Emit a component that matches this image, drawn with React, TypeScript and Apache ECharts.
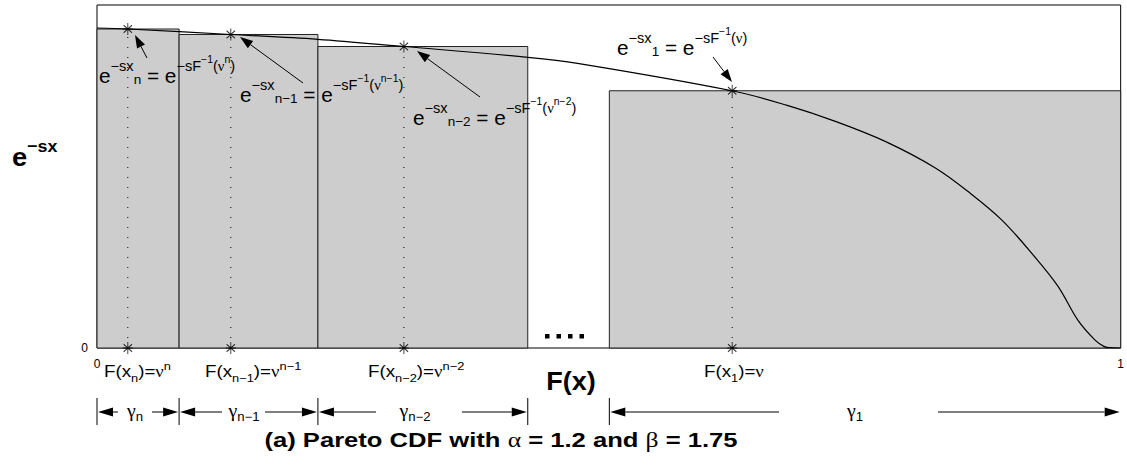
import React, { useEffect, useRef } from 'react';
import * as echarts from 'echarts';

// ---------- data ----------
const curveX = [0, 0.0301, 0.1307, 0.2157, 0.2998, 0.4208, 0.4694, 0.6205, 0.6735, 0.722, 0.771, 0.819, 0.851, 0.884, 0.916, 0.939, 0.958, 0.975, 0.984, 0.989, 1];
const curveY = [0.933, 0.930, 0.914, 0.900, 0.879, 0.8475, 0.830, 0.750, 0.708, 0.660, 0.601, 0.525, 0.456, 0.373, 0.266, 0.179, 0.082, 0.023, 0.004, 0.001, 0];
const starX = [0.0301, 0.1307, 0.2998, 0.6205];
const starY = [0.930, 0.914, 0.879, 0.750];
const barStart = [0, 0.0802, 0.2158, 0.5005];
const barEnd = [0.0802, 0.2158, 0.4208, 1];
const barHeight = [0.930, 0.914, 0.879, 0.750];
const xTickLabels = ['0', '1'];
const yTickLabels = ['0'];

const SANS = "'Liberation Sans'";
const SERIF = "'Liberation Serif'";
const SX = 1.1;

let measureCtx: CanvasRenderingContext2D | null = null;
function tw(t: string, font: string) {
  if (!measureCtx) measureCtx = document.createElement('canvas').getContext('2d');
  measureCtx!.font = font;
  return measureCtx!.measureText(t).width;
}

type Pc = [string, number?, boolean?];
type Cfg = { size: Record<string, number>; dy: Record<string, number>; weight: string; sx?: number };

function mtext(x0: number, yb: number, pcs: Pc[], cfg: Cfg, center = false) {
  const sx = cfg.sx ?? SX;
  const items: any[] = [];
  let x = 0;
  for (const p of pcs) {
    const l = String(p[1] ?? 0);
    const size = cfg.size[l];
    const dy = cfg.dy[l];
    const g = !!p[2];
    const fam = g ? SERIF : SANS;
    const weight = g ? 'normal' : cfg.weight;
    const font = `${weight} ${size}px ${fam}`;
    items.push({ t: p[0], x, y: yb + dy - (g ? 0.34 : 0.35) * size, font });
    x += tw(p[0], font) * sx;
  }
  const off = center ? x0 - x / 2 : x0;
  return items.map((it) => ({
    type: 'text',
    x: off + it.x,
    y: it.y,
    scaleX: sx,
    z: 100,
    style: {
      text: it.t, font: it.font, fill: '#000',
      textAlign: 'left', textVerticalAlign: 'middle', align: 'left', verticalAlign: 'middle',
    },
  }));
}

function arrow(fx: number, fy: number, tx: number, ty: number, len = 13, half = 4.5) {
  const dx = tx - fx, dy = ty - fy;
  const d = Math.hypot(dx, dy);
  const ux = dx / d, uy = dy / d;
  const bx = tx - ux * len, by = ty - uy * len;
  const nx = -uy, ny = ux;
  return [
    { type: 'line', z: 100, shape: { x1: fx, y1: fy, x2: bx, y2: by }, style: { stroke: '#000', lineWidth: 1 } },
    { type: 'polygon', z: 100, shape: { points: [[tx, ty], [bx + nx * half, by + ny * half], [bx - nx * half, by - ny * half]] }, style: { fill: '#000' } },
  ];
}

const annCfg: Cfg = { size: { '0': 20, '1': 14, '2': 10, '-1': 13 }, dy: { '0': 0, '1': -12, '2': -20, '-1': 1 }, weight: 'normal', sx: 1.04 };
const lblCfg: Cfg = { size: { '0': 16, '1': 11, '-1': 11 }, dy: { '0': 0, '1': -7, '-1': 5 }, weight: 'normal', sx: 1.17 };
const gamCfg: Cfg = { size: { '0': 18, '-1': 12 }, dy: { '0': 0, '-1': 4 }, weight: 'normal', sx: 1.1 };

export default function App() {
  const ref = useRef<HTMLDivElement>(null);
  useEffect(() => {
    const chart = echarts.init(ref.current!, undefined, { renderer: 'svg' });
    const starSym = 'path://M5,0L5,12M0,6L10,6M0.8,2.2L9.2,9.8M0.8,9.8L9.2,2.2';
    const option: any = {
      animation: false,
      grid: { left: 97, right: 1, top: 5, bottom: 117, show: true, borderColor: '#000', borderWidth: 1, backgroundColor: 'transparent' },
      xAxis: {
        type: 'value', min: 0, max: 1, interval: 1,
        axisLine: { show: false }, axisTick: { show: false }, splitLine: { show: false },
        axisLabel: { margin: 10, fontSize: 12, fontFamily: SANS, color: '#000', formatter: (v: number) => xTickLabels[Math.round(v)] ?? '' },
      },
      yAxis: {
        type: 'value', min: 0, max: 1, interval: 1,
        axisLine: { show: false }, axisTick: { show: false }, splitLine: { show: false },
        axisLabel: { margin: 9, fontSize: 12, fontFamily: SANS, color: '#000', formatter: (v: number) => (v === 0 ? yTickLabels[0] : '') },
      },
      series: [
        {
          type: 'custom', z: 1,
          data: barStart.map((s, i) => [s, barEnd[i], barHeight[i]]),
          encode: { x: [0, 1], y: 2 },
          renderItem: (params: any, api: any) => {
            const p0 = api.coord([api.value(0), api.value(2)]);
            const p1 = api.coord([api.value(1), 0]);
            return {
              type: 'rect',
              shape: { x: p0[0], y: p0[1], width: p1[0] - p0[0], height: p1[1] - p0[1] },
              style: { fill: '#cdcdcd', stroke: '#222', lineWidth: 1 },
            };
          },
        },
        ...starX.map((x, i) => ({
          type: 'line', z: 2, symbol: 'none', silent: true,
          data: [[x, 0], [x, starY[i]]],
          lineStyle: { color: '#000', width: 1, type: [1, 9] },
        })),
        {
          type: 'line', z: 3, symbol: 'none', smooth: 0.35,
          data: curveX.map((x, i) => [x, curveY[i]]),
          lineStyle: { color: '#000', width: 1.2 },
        },
        {
          type: 'scatter', z: 4, symbol: starSym, symbolSize: [10, 12],
          data: starX.map((x, i) => [x, starY[i]]).concat(starX.map((x) => [x, 0])),
          itemStyle: { color: 'transparent', borderColor: '#000', borderWidth: 1 },
        },
      ],
    };
    chart.setOption(option);

    const g: any[] = [];
    const nu = (s: string, l: number): Pc => [s, l, true];
    // annotations
    g.push(...mtext(99, 83, [['e'], ['−sx', 1], ['n', -1], [' = '], ['e'], ['−sF', 1], ['−1', 2], ['(', 1], nu('ν', 1), ['n', 2], [')', 1]], annCfg));
    g.push(...mtext(240, 102, [['e'], ['−sx', 1], ['n−1', -1], [' = '], ['e'], ['−sF', 1], ['−1', 2], ['(', 1], nu('ν', 1), ['n−1', 2], [')', 1]], annCfg));
    g.push(...mtext(413, 125, [['e'], ['−sx', 1], ['n−2', -1], [' = '], ['e'], ['−sF', 1], ['−1', 2], ['(', 1], nu('ν', 1), ['n−2', 2], [')', 1]], annCfg));
    g.push(...mtext(617, 55, [['e'], ['−sx', 1], ['1', -1], [' = '], ['e'], ['−sF', 1], ['−1', 2], ['(', 1], nu('ν', 1), [')', 1]], annCfg));
    g.push(...arrow(147, 58, 135, 35));
    g.push(...arrow(303, 83, 240, 37));
    g.push(...arrow(480, 97, 417, 51));
    g.push(...arrow(713, 57, 732, 82));
    // ellipsis
    [547, 558.5, 570, 581.5].forEach((x) => g.push({ type: 'rect', z: 100, shape: { x: x - 2, y: 334, width: 4.5, height: 4.5 }, style: { fill: '#000' } }));
    // y label
    g.push(...mtext(12, 166, [['e'], ['−sx', 1]], { size: { '0': 26, '1': 17 }, dy: { '0': 0, '1': -14 }, weight: 'bold', sx: 1.05 }));
    // x label
    g.push(...mtext(571, 390, [['F(x)']], { size: { '0': 25 }, dy: { '0': 0 }, weight: 'bold', sx: 1.08 }, true));
    // bottom labels
    g.push(...mtext(104, 377, [['F(x'], ['n', -1], [')='], nu('ν', 0), ['n', 1]], lblCfg));
    g.push(...mtext(205, 377, [['F(x'], ['n−1', -1], [')='], nu('ν', 0), ['n−1', 1]], lblCfg));
    g.push(...mtext(368, 377, [['F(x'], ['n−2', -1], [')='], nu('ν', 0), ['n−2', 1]], lblCfg));
    g.push(...mtext(704, 377, [['F(x'], ['1', -1], [')='], nu('ν', 0)], lblCfg));
    // gamma row
    const gy = 412;
    const bounds = [barStart[0], barEnd[0], barEnd[1], barEnd[2], barStart[3], barEnd[3]].map((v) => chart.convertToPixel({ gridIndex: 0 }, [v, 0])[0]);
    [bounds[0], bounds[1], bounds[2], bounds[3], bounds[4]].forEach((x) =>
      g.push({ type: 'line', z: 100, shape: { x1: x, y1: 398, x2: x, y2: 425 }, style: { stroke: '#000', lineWidth: 1 } }));
    const spans: [number, number, number, number, number, string][] = [
      [bounds[0], bounds[1], 118, 152, 135, 'n'],
      [bounds[1], bounds[2], 222, 265, 244, 'n−1'],
      [bounds[2], bounds[3], 376, 462, 415, 'n−2'],
      [bounds[4], bounds[5], 779, 938, 855, '1'],
    ];
    spans.forEach(([a, b, l, r, c, sub]) => {
      g.push(...arrow(l, gy, a + 1, gy, 15, 4.5));
      g.push(...arrow(r, gy, b - 1, gy, 15, 4.5));
      g.push(...mtext(c, gy + 5, [nu('γ', 0), [sub, -1]], gamCfg, true));
    });
    // title
    g.push(...mtext(501, 447, [['(a) Pareto CDF with '], nu('α', 0), [' = 1.2 and '], nu('β', 0), [' = 1.75']], { size: { '0': 20 }, dy: { '0': 0 }, weight: 'bold', sx: 1.28 }, true));

    chart.setOption({ graphic: { elements: g } });
    return () => chart.dispose();
  }, []);
  return <div ref={ref} style={{ position: 'fixed', left: 0, top: 0, width: 1127, height: 465, background: '#fff' }} />;
}
